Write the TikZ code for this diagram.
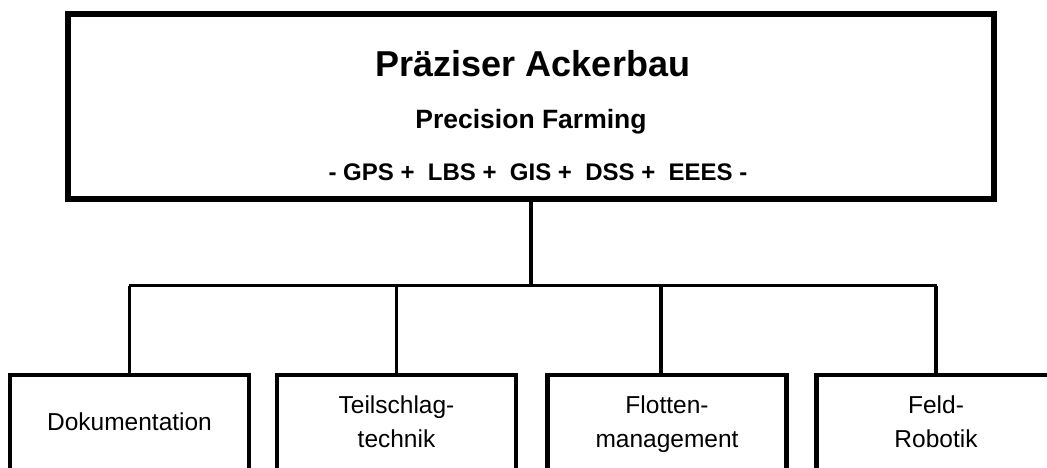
\documentclass[tikz,border=0pt]{standalone}
\usepackage{fontspec}
\setmainfont{Liberation Sans}
\begin{document}
\begin{tikzpicture}[x=1pt,y=-1pt,
  boxstyle/.style={draw=black, fill=white, inner sep=0pt, outer sep=0pt},
  conn/.style={draw=black, line width=3.2pt},
  leaf/.style={boxstyle, line width=4.8pt, minimum width=239pt, minimum height=102pt, anchor=north west, align=center, font=\fontsize{24.5}{34}\selectfont},
  toptext/.style={anchor=center}
]
\useasboundingbox (0,0) rectangle (1047,467);
\clip (0,0) rectangle (1047,467);
% top box
\node[boxstyle, line width=5.8pt, minimum width=926pt, minimum height=185pt, anchor=north] (top) at (531,13.7) {};
\node[toptext, font=\fontsize{36}{40}\bfseries\selectfont] (t1) at (533,64) {Präziser Ackerbau};
\node[toptext, font=\fontsize{26.5}{30}\bfseries\selectfont] (t2) at (531,122) {Precision Farming};
\node[toptext, font=\fontsize{24}{28}\bfseries\selectfont] (t3) at (538,172) {- GPS +\ \ LBS +\ \ GIS +\ \ DSS +\ \ EEES -};
% leaves (bottom edge lies below the visible area; text raised to match)
\node[leaf, text depth=8pt] (b1) at (10,375) {Dokumentation};
\node[leaf, text depth=8pt] (b2) at (277,375) {Teilschlag-\\technik};
\node[leaf, text depth=8pt] (b3) at (547.5,375) {Flotten-\\management};
\node[leaf, text depth=8pt] (b4) at (816.5,375) {Feld-\\Robotik};
% connectors
\coordinate (busL) at (130,285.5);
\coordinate (busR) at (935.5,285.5);
\draw[conn, line width=4pt] (top.south) -- (top.south |- busL);
\draw[conn, line width=3pt] ([xshift=-1.5pt]busL) -- ([xshift=1.5pt]busR);
\draw[conn] (b1.north) -- (b1.north |- busL);
\draw[conn] (b2.north) -- (b2.north |- busL);
\draw[conn] ([xshift=-6pt]b3.north) -- ([xshift=-6pt]b3.north |- busL);
\draw[conn] (b4.north) -- (b4.north |- busL);
\end{tikzpicture}
\end{document}
